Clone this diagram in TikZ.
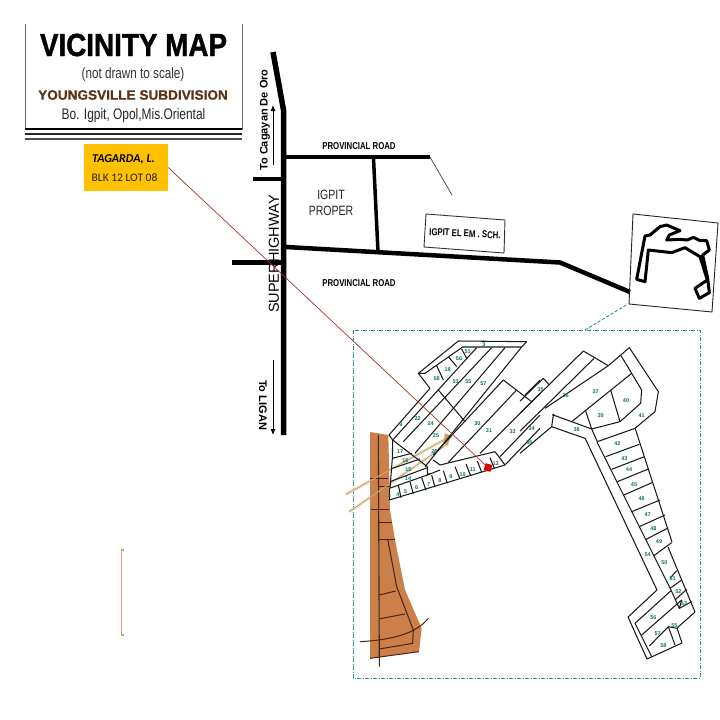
\documentclass[tikz,border=0pt]{standalone}
\usepackage{fontspec}
\setmainfont{Liberation Sans}
\newfontfamily\condf[FakeStretch=0.78]{Liberation Sans}
\newfontfamily\heavyf[BoldFeatures={FakeStretch=0.87,FakeBold=1.2}]{Liberation Sans}
\newfontfamily\heavyg[BoldFeatures={FakeBold=0.8}]{Liberation Sans}
\newfontfamily\carl{Carlito}
\usetikzlibrary{arrows.meta}
\definecolor{lotc}{HTML}{1A1A1A}
\definecolor{numc}{HTML}{0F6F66}
\definecolor{framec}{HTML}{2E8F93}
\definecolor{orangec}{HTML}{CB7F4A}
\definecolor{brownl}{HTML}{4A2412}
\definecolor{tanc}{HTML}{C9A86A}
\definecolor{tagc}{HTML}{FFC000}
\definecolor{leaderc}{HTML}{A83232}
\definecolor{titleb}{HTML}{5C3314}
\tikzset{
 road/.style={line width=5.5pt,black,line join=miter},
 lot/.style={line width=1.05pt,lotc,line join=round},
 num/.style={font=\fontsize{5.5}{5.5}\selectfont\bfseries,text=numc,inner sep=0pt},
 lab/.style={inner sep=0pt,align=center},
 zoomB/.style={shift={(340,325)},x=0.33333pt,y=-0.33333pt},
 zoomC/.style={shift={(520,325)},x=0.33333pt,y=-0.33333pt},
 zoomD/.style={shift={(560,500)},x=0.33333pt,y=-0.33333pt},
 zoomE/.style={shift={(345,480)},x=0.33333pt,y=-0.33333pt},
 zoomF/.style={shift={(600,200)},x=0.33333pt,y=-0.33333pt},
}
\begin{document}
\begin{tikzpicture}[x=1pt,y=-1pt]
\useasboundingbox (0,0) rectangle (720,720);
\fill[white] (0,0) rectangle (720,720);
% title box
\draw[line width=0.8pt,black!60] (25,24)--(25,129)--(242,129)--(242,24);
\draw[line width=1.2pt,black] (25,129)--(242,129);
\draw[line width=1.8pt,black!85] (25,134)--(242,134);
\draw[line width=1.8pt,black!70] (25,139)--(242,139);
\node[lab] (ttl) at (133.5,45) {\fontsize{32}{34}\selectfont\heavyf\bfseries VICINITY MAP};
\node[lab,text=black!80] (ttl2) at (133,75) {\condf\fontsize{15}{15}\selectfont (not drawn to scale)};
\node[lab,text=titleb] (ttl3) at (133,95) {\fontsize{13.6}{14}\selectfont\heavyg\bfseries YOUNGSVILLE SUBDIVISION};
\node[lab,text=black!85] (ttl4) at (133.5,115.5) {\condf\fontsize{15.3}{15}\selectfont Bo. Igpit, Opol,Mis.Oriental};
% tag
\node[fill=tagc,minimum width=84pt,minimum height=47pt,inner sep=0pt] (tag) at (126,167.5) {};
\node[lab,anchor=west] (tag1) at (92,159) {\carl\fontsize{12}{12}\selectfont\bfseries\itshape TAGARDA, L.};
\node[lab,anchor=west,text=black!85] (tag2) at (91.5,178) {\carl\fontsize{11.5}{12}\selectfont BLK 12 LOT 08};
% roads
\draw[road] (273,52)--(283.5,110)--(283.5,435);
\draw[road,line width=4pt] (253,179)--(283,179);
\draw[road,line width=4.5pt] (232,262.5)--(283,262.5);
\draw[road,line width=4.5pt] (286,157)--(430,157);
\draw[road,line width=3.5pt] (373.5,158)--(378,252);
\draw[road,line width=4.5pt] (286,247)--(560,262.5)--(630,292);
\draw[line width=0.7pt,black!75] (430,157)--(452,195);
% road text
\node[lab] (pr1) at (359,146.5) {\condf\fontsize{10}{10}\selectfont\bfseries PROVINCIAL ROAD};
\node[lab] (pr2) at (359,283) {\condf\fontsize{10}{10}\selectfont\bfseries PROVINCIAL ROAD};
\node[lab,text=black!85,font=\condf\fontsize{13.5}{16.5}\selectfont] (ig) at (331,203) {IGPIT\\PROPER};
\node[lab,rotate=90] (sh) at (274,254) {\fontsize{14.5}{15}\selectfont SUPERHIGHWAY};
\node[lab,rotate=90] (cdo) at (265,120) {\fontsize{11}{11}\selectfont\bfseries To Cagayan De Oro};
\node[lab,rotate=-90] (lig) at (263,405) {\fontsize{11}{11}\selectfont\bfseries To LIGAN};
\coordinate (a1s) at (273,165); \coordinate (a1e) at (273,105);
\coordinate (a2s) at (273,360); \coordinate (a2e) at (273,435);
\draw[line width=0.8pt,-{Latex[length=6pt,width=5pt]}] (a1s)--(a1e);
\draw[line width=0.8pt,-{Latex[length=6pt,width=5pt]}] (a2s)--(a2e);
% school
\draw[line width=0.9pt,black!80] (426,214)--(505,220)--(504,253)--(424,247)--cycle;
\node[lab,rotate=-3] (sch) at (465,233.5) {\condf\fontsize{10}{10}\selectfont\bfseries IGPIT EL EM . SCH.};
% inset
\draw[line width=0.9pt,black!85] (633,214)--(718,223)--(712,312)--(629,304)--cycle;
\begin{scope}[zoomF]
\draw[line width=3pt,black,line join=round] (110,238)--(135,245)--(145,150)--(215,158)--(255,143)--(300,170)--(322,240)--(285,265)--(298,295)--(328,278)--(323,235)--(308,165)--(328,150)--(320,122)--(300,122)--(280,112)--(262,120)--(240,118)--(200,120)--(208,105)--(240,92)--(200,75)--(180,80)--(150,105)--(135,108)--cycle;
\end{scope}
\draw[framec,line width=0.9pt,densely dashed] (585,330)--(628,304);
% frame
\draw[framec,line width=0.9pt,dash pattern=on 4pt off 1.5pt on 1pt off 1.5pt] (353,330) rectangle (700,678);
% bracket
\draw[tanc,line width=1.2pt] (124,550)--(121.5,550)--(121.5,635)--(124,635);
% pipes under
\begin{scope}[zoomB]
\draw[tanc!35,line width=3.5pt,opacity=.7] (18,508)--(320,340);
\draw[tanc!35,line width=3.5pt,opacity=.7] (28,560)--(325,355);
\end{scope}
% orange area
\begin{scope}[zoomE]
\fill[orangec] (75,-144)--(130,-135)--(135,90)--(150,180)--(180,330)--(230,445)--(222,515)--(75,535)--cycle;
\draw[brownl,line width=1.1pt] (100,-135)--(103,560);
\draw[brownl,line width=1pt] (78,88)--(133,88) (103,128)--(140,128) (103,177)--(150,177);
\draw[brownl,line width=1pt] (128,177)--(155,320)--(205,450)--(203,490)--(103,507);
\draw[brownl,line width=1pt] (103,345)--(152,333) (105,416)--(180,402);
\draw[brownl,line width=1pt] (75,535)--(222,515);
\draw[brownl,line width=1pt] (45,485) .. controls (130,480) and (210,465) .. (250,415);
\draw[brownl,line width=1pt] (75,-5)--(130,-5) (100,20)--(135,20);
\end{scope}
% west block
\begin{scope}[zoomB]
\draw[tanc,line width=1pt] (18,508)--(320,340);
\draw[tanc,line width=1pt] (28,560)--(325,355);
\fill[tanc!80!brown] (315,325)--(335,332)--(322,360)--(310,355)--cycle;
\draw[lot] (235,145)--(355,48)--(560,50)--(545,66)--(368,66)--(255,145)--cycle;
\draw[lot] (235,145)--(270,190)--(147,330)--(158,345)--(410,68);
\draw[lot] (290,122)--(310,165) (325,95)--(350,125) (365,72)--(380,100);
\draw[lot] (190,350)--(455,68) (225,385)--(495,68) (255,425)--(545,66);
\draw[lot] (295,195)--(375,290);
\draw[lot] (280,390)--(490,165)--(575,230)--(600,205);
\draw[lot] (555,210)--(600,165);
\draw[lot] (325,412)--(530,195);
\draw[lot] (420,385)--(575,230);
\draw[lot] (480,395)--(600,270);
\draw[lot] (495,420)--(600,310);
\draw[lot] (465,380)--(495,420);
\draw[lot] (280,405)--(300,420)--(465,380);
\draw[lot] (148,490)--(262,450)--(268,445);
\draw[lot] (262,450)--(300,435);
\draw[lot] (148,525)--(495,420);
\draw[lot] (148,490)--(148,525);
\draw[lot] (175,480)--(183,518) (210,470)--(220,507) (245,458)--(258,496) (275,450)--(285,487) (310,437)--(322,475) (345,425)--(360,462) (378,417)--(392,452) (412,408)--(425,442) (450,398)--(463,430);
\draw[lot] (158,345)--(262,425)--(262,450);
\draw[lot] (158,345)--(157,400)--(150,490);
\draw[lot] (157,400)--(215,385) (157,430)--(240,402) (150,470)--(262,428);
\end{scope}
% east block
\begin{scope}[zoomC]
\draw[lot] (190,78)--(0,265);
\draw[lot] (222,100)--(70,250)--(0,318);
\draw[lot] (70,160)--(88,180) (70,160)--(0,228);
\draw[lot] (190,78)--(265,122)--(75,250);
\draw[lot] (265,122)--(300,92)--(328,68)--(415,200)--(405,260)--(345,310)--(232,350);
\draw[lot] (303,92)--(335,145)--(365,195)--(362,235)--(300,290)--(215,312);
\draw[lot] (335,145)--(155,290);
\draw[lot] (100,270)--(155,290)--(215,312);
\draw[lot] (100,270)--(95,305)--(195,340);
\draw[lot] (95,305)--(0,385);
\draw[lot] (197,258)--(215,312)--(232,350);
\draw[lot] (272,195)--(300,290);
\draw[lot] (257,395)--(358,358) (275,433)--(373,395) (292,470)--(385,432) (312,510)--(398,472);
\fill[black] (100,270) circle (4);
\end{scope}
% long road edges, in page pixels
\draw[lot] (585,438)--(657,590)--(628,617)--(647,659)--(682,643)--(677,628)--(695,612)--(668,547);
\draw[lot] (597,442)--(671,590);
\draw[lot] (635,428)--(672,542);
% south block
\begin{scope}[zoomD]
\draw[lot] (215,35)--(300,0) (238,80)--(315,45) (258,118)--(322,85) (280,168)--(335,128);
\draw[lot] (330,235)--(350,212) (330,265)--(365,240) (345,300)--(380,268) (358,325)--(395,305);
\draw[lot] (333,272)--(225,370)--(275,470);
\draw[lot] (365,300)--(245,405);
\draw[lot] (325,380)--(268,438);
\draw[lot] (325,380)--(345,435);
\draw[lot] (325,380)--(350,385);
\draw[lot] (333,270)--(358,325)--(365,300);
\end{scope}
% numbers
\begin{scope}[zoomB]
\node[num] (n1) at (432,58) {3};
\node[num] (n2) at (383,80) {51};
\node[num] (n3) at (357,100) {56};
\node[num] (n4) at (323,135) {18};
\node[num] (n5) at (290,160) {58};
\node[num] (n6) at (347,170) {53};
\node[num] (n7) at (385,170) {55};
\node[num] (n8) at (430,175) {57};
\node[num] (n9) at (183,298) {9};
\node[num] (n10) at (233,280) {22};
\node[num] (n11) at (272,297) {24};
\node[num] (n12) at (288,332) {25};
\node[num] (n13) at (283,380) {26};
\node[num] (n14) at (412,297) {30};
\node[num] (n15) at (447,318) {31};
\node[num] (n16) at (518,320) {33};
\node[num] (n17) at (575,310) {34};
\node[num] (n18) at (568,352) {36};
\node[num] (n19) at (180,380) {17};
\node[num] (n20) at (196,408) {16};
\node[num] (n21) at (205,435) {15};
\node[num] (n22) at (204,460) {14};
\node[num] (n23) at (467,415) {13};
\node[num] (n24) at (398,435) {11};
\node[num] (n25) at (368,448) {10};
\node[num] (n26) at (333,456) {9};
\node[num] (n27) at (300,466) {8};
\node[num] (n28) at (266,478) {7};
\node[num] (n29) at (230,488) {6};
\node[num] (n30) at (197,500) {5};
\node[num] (n31) at (174,510) {4};
\node[num] (n32) at (148,512) {3};
\end{scope}
\begin{scope}[zoomC]
\node[num] (m1) at (62,195) {35};
\node[num] (m2) at (137,213) {36};
\node[num] (m3) at (227,200) {37};
\node[num] (m4) at (318,226) {40};
\node[num] (m5) at (242,272) {39};
\node[num] (m6) at (365,273) {41};
\node[num] (m7) at (170,313) {38};
\node[num] (m8) at (292,357) {42};
\node[num] (m9) at (313,400) {43};
\node[num] (m10) at (327,435) {44};
\node[num] (m11) at (342,478) {45};
\node[num] (m12) at (365,520) {46};
\end{scope}
\begin{scope}[zoomD]
\node[num] (s1) at (263,45) {47};
\node[num] (s2) at (280,85) {48};
\node[num] (s3) at (297,125) {49};
\node[num] (s4) at (263,163) {54};
\node[num] (s5) at (313,188) {50};
\node[num] (s6) at (338,235) {51};
\node[num] (s7) at (355,275) {52};
\node[num] (s8) at (372,310) {53};
\node[num] (s9) at (343,378) {55};
\node[num] (s10) at (280,353) {56};
\node[num] (s11) at (293,400) {57};
\node[num] (s12) at (310,437) {58};
\end{scope}
% lot + leader
\node[fill=red!85!black,minimum width=7pt,minimum height=7pt,inner sep=0pt,rotate=-15] (mylot) at (488,467.5) {};
\draw[leaderc,line width=0.7pt] (tag.east)--(mylot.center);
\end{tikzpicture}
\end{document}
